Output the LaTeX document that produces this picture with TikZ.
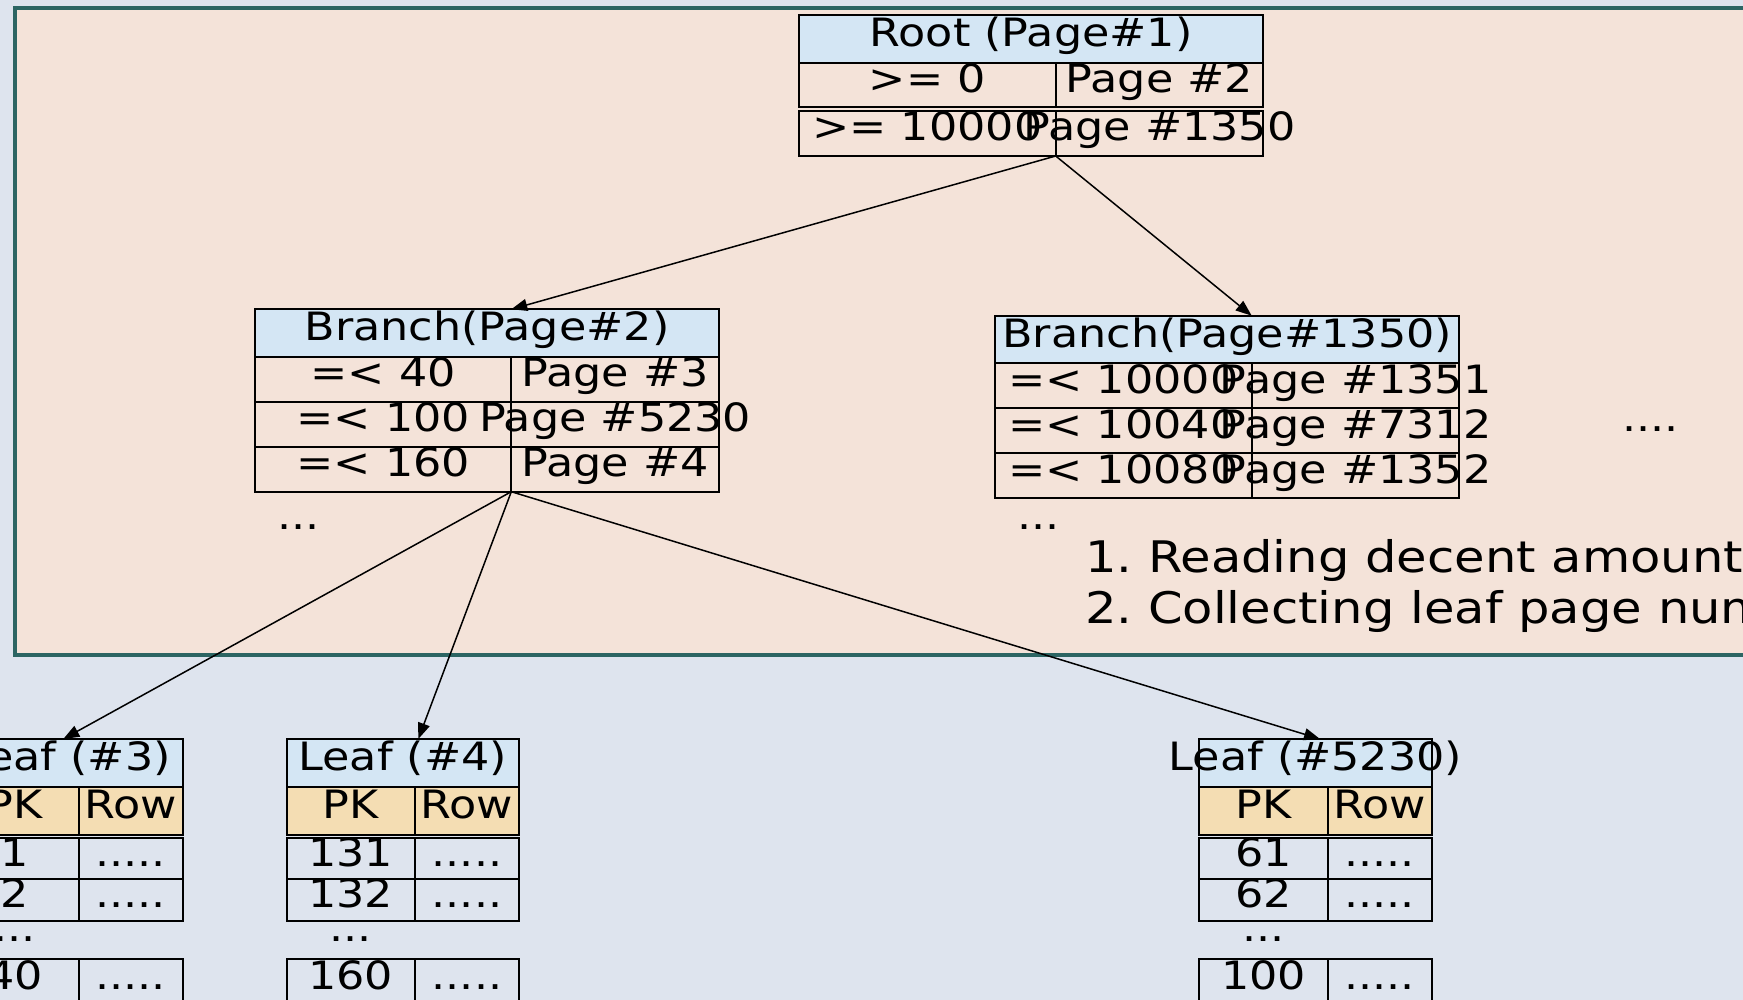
\documentclass[tikz,border=0pt]{standalone}
\usepackage{fontspec}
\setmainfont{DejaVu Sans}[FakeStretch=1.14]
\newfontfamily\notefamily{DejaVu Sans}[FakeStretch=1.14]
\usetikzlibrary{arrows.meta,calc}

\definecolor{pagebg}{HTML}{DEE4EE}
\definecolor{framefill}{HTML}{F4E3D9}
\definecolor{framedraw}{HTML}{2C6563}
\definecolor{hdrblue}{HTML}{D4E6F4}
\definecolor{keywheat}{HTML}{F4DDB3}

\newcommand\celltext{\fontsize{39}{46}\selectfont}
\newcommand\notetext{\notefamily\fontsize{43.5}{50.6}\selectfont\frenchspacing}

% one leaf page: name, left x, title, first key, second key, last key
\newcommand\leafpage[6]{%
  \node[thead, minimum width=232.3pt, minimum height=47.7pt, label={[ttext]center:{#3}}] (#1-h) at (#2,739) {};
  \node[tkey, minimum width=128.3pt, minimum height=48.3pt, label={[ttext]center:PK}] (#1-pk) at (#1-h.south west) {};
  \node[tkey, minimum width=104pt, minimum height=48.3pt, label={[ttext]center:Row}] (#1-row) at (#1-pk.north east) {};
  \node[tcell, minimum width=128.3pt, minimum height=41.6pt, label={[ttext]center:{#4}}] (#1-k1) at (#2,837.7) {};
  \node[tcell, minimum width=104pt, minimum height=41.6pt, label={[ttext]center:.....}] (#1-v1) at (#1-k1.north east) {};
  \node[tcell, minimum width=128.3pt, minimum height=41.4pt, label={[ttext]center:{#5}}] (#1-k2) at (#1-k1.south west) {};
  \node[tcell, minimum width=104pt, minimum height=41.4pt, label={[ttext]center:.....}] (#1-v2) at (#1-k2.north east) {};
  \node[dotsx, anchor=base] (#1-gap) at ($(#1-k2.south)+(0,20.3)$) {...};
  \node[tcell, minimum width=128.3pt, minimum height=45pt, label={[ttext]center:{#6}}] (#1-k3) at (#2,959) {};
  \node[tcell, minimum width=104pt, minimum height=45pt, label={[ttext]center:.....}] (#1-v3) at (#1-k3.north east) {};
}

\begin{document}
\begin{tikzpicture}[x=1pt,y=-1pt,
  tcell/.style={draw=black, line width=1.9pt, anchor=north west, inner sep=0pt, outer sep=0pt},
  thead/.style={tcell, fill=hdrblue},
  tkey/.style={tcell, fill=keywheat},
  ttext/.style={font=\celltext, inner sep=0pt, text height=28pt, text depth=13pt},
  dotsx/.style={font=\celltext, inner sep=0pt},
  note/.style={font=\notetext, inner sep=0pt, anchor=base west},
  link/.style={line width=1.5pt, -{Triangle[length=16pt,width=12pt]}},
]
\useasboundingbox (0,0) rectangle (1743,1000);
\clip (0,0) rectangle (1743,1000);
\fill[pagebg] (0,0) rectangle (1743,1000);

% upper levels of the index
\draw[line width=4.5pt, draw=framedraw, fill=framefill] (15,8) rectangle (1770,655);

% root page
\node[thead, minimum width=464.3pt, minimum height=47.7pt, label={[ttext]center:{Root (Page\#1)}}] (root-h) at (799,15) {};
\node[tcell, minimum width=256.7pt, minimum height=44.6pt, label={[ttext]center:{>= 0}}] (root-k1) at (root-h.south west) {};
\node[tcell, minimum width=207.6pt, minimum height=44.6pt, label={[ttext]center:{Page \#2}}] (root-p1) at (root-k1.north east) {};
\node[tcell, minimum width=256.7pt, minimum height=45pt, label={[ttext]center:{>= 10000}}] (root-k2) at (799,111) {};
\node[tcell, minimum width=207.6pt, minimum height=45pt, label={[ttext]center:{Page \#1350}}] (root-p2) at (root-k2.north east) {};

% branch page 2
\node[thead, minimum width=464pt, minimum height=47.4pt, label={[ttext]center:{Branch(Page\#2)}}] (b2-h) at (255,309.3) {};
\node[tcell, minimum width=256.3pt, minimum height=45pt, label={[ttext]center:{=< 40}}] (b2-k1) at (b2-h.south west) {};
\node[tcell, minimum width=207.7pt, minimum height=45pt, label={[ttext]center:{Page \#3}}] (b2-p1) at (b2-k1.north east) {};
\node[tcell, minimum width=256.3pt, minimum height=45pt, label={[ttext]center:{=< 100}}] (b2-k2) at (b2-k1.south west) {};
\node[tcell, minimum width=207.7pt, minimum height=45pt, label={[ttext]center:{Page \#5230}}] (b2-p2) at (b2-k2.north east) {};
\node[tcell, minimum width=256.3pt, minimum height=45pt, label={[ttext]center:{=< 160}}] (b2-k3) at (b2-k2.south west) {};
\node[tcell, minimum width=207.7pt, minimum height=45pt, label={[ttext]center:{Page \#4}}] (b2-p3) at (b2-k3.north east) {};
\node[dotsx, anchor=base west] (b2-more) at (277,529) {...};

% branch page 1350
\node[thead, minimum width=464.3pt, minimum height=47.6pt, label={[ttext]center:{Branch(Page\#1350)}}] (b3-h) at (995,315.7) {};
\node[tcell, minimum width=256.7pt, minimum height=45pt, label={[ttext]center:{=< 10000}}] (b3-k1) at (b3-h.south west) {};
\node[tcell, minimum width=207.6pt, minimum height=45pt, label={[ttext]center:{Page \#1351}}] (b3-p1) at (b3-k1.north east) {};
\node[tcell, minimum width=256.7pt, minimum height=45pt, label={[ttext]center:{=< 10040}}] (b3-k2) at (b3-k1.south west) {};
\node[tcell, minimum width=207.6pt, minimum height=45pt, label={[ttext]center:{Page \#7312}}] (b3-p2) at (b3-k2.north east) {};
\node[tcell, minimum width=256.7pt, minimum height=45pt, label={[ttext]center:{=< 10080}}] (b3-k3) at (b3-k2.south west) {};
\node[tcell, minimum width=207.6pt, minimum height=45pt, label={[ttext]center:{Page \#1352}}] (b3-p3) at (b3-k3.north east) {};
\node[dotsx, anchor=base west] (b3-more) at (1017,529) {...};

\node[dotsx, anchor=base west] (more-branches) at (1622,431) {....};

\node[note] (note1) at (1085,572.7) {1. Reading decent amount};
\node[note] (note2) at (1085,623.3) {2. Collecting leaf page num};

% leaf pages
\leafpage{l3}{-49.6}{Leaf (\#3)}{1}{2}{40}
\leafpage{l4}{286.7}{Leaf (\#4)}{131}{132}{160}
\leafpage{l5}{1199.3}{Leaf (\#5230)}{61}{62}{100}

% page pointers
\draw[link] (root-k2.south east) -- (b2-h.north -| b2-k1.east);
\draw[link] (root-k2.south east) -- (b3-h.north -| b3-k1.east);
\draw[link] (b2-k3.south east) -- ($(l3-h.north -| l3-pk.east)+(-15.4,0)$);
\draw[link] (b2-k3.south east) -- ($(l4-h.north -| l4-pk.east)+(3.3,0)$);
\draw[link] (b2-k3.south east) -- ($(l5-h.north -| l5-pk.east)+(-7.6,0)$);
\end{tikzpicture}
\end{document}
